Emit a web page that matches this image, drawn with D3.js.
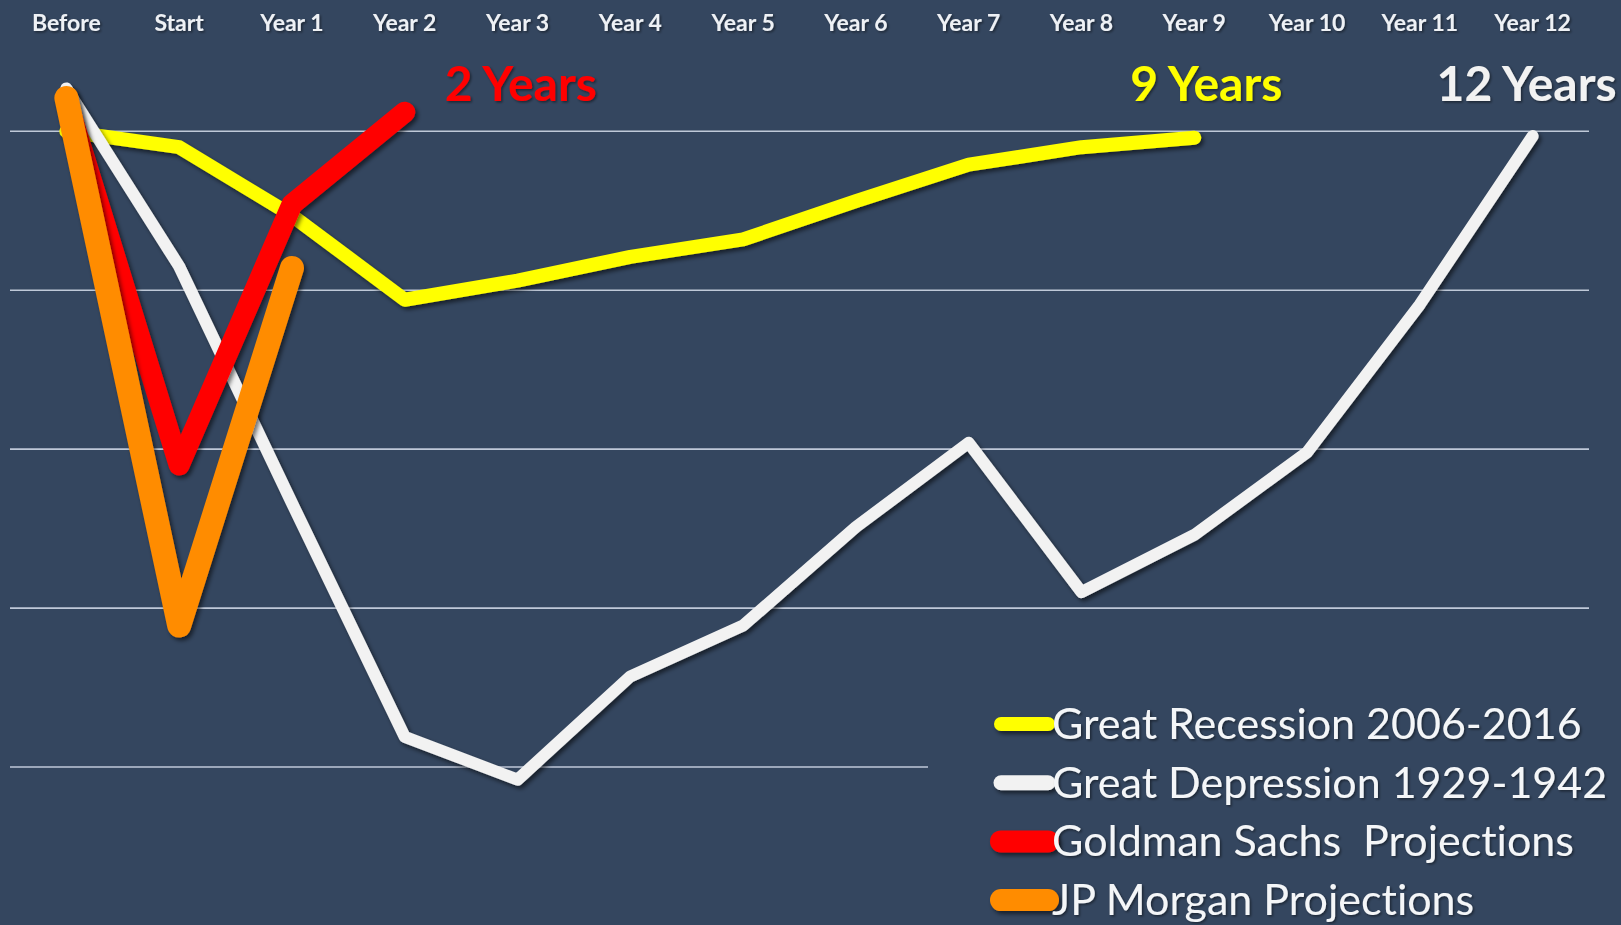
<!DOCTYPE html>
<html>
<head>
<meta charset="utf-8">
<script src="https://cdn.jsdelivr.net/npm/d3@7/dist/d3.min.js"></script>
<style>
  html, body { margin: 0; padding: 0; background: #34465f; overflow: hidden; }
  svg { display: block; }
  text { font-variant-ligatures: none; white-space: pre; }
</style>
</head>
<body>
<svg id="chart" width="1621" height="925"></svg>
<script>
// Periods along the top axis
const categories = ["Before", "Start", "Year 1", "Year 2", "Year 3", "Year 4", "Year 5",
  "Year 6", "Year 7", "Year 8", "Year 9", "Year 10", "Year 11", "Year 12"];

// Output index (pre-crisis level = 100)
const greatRecession = [100, 99.0, 94.7, 89.4, 90.6, 92.1, 93.2, 95.6, 97.9, 99.0, 99.6];
const greatDepression = [102.7, 91.5, 76.6, 61.9, 59.2, 65.7, 68.9, 75.1, 80.4, 71.0, 74.6, 79.8, 89.1, 99.7];
const goldmanSachs = [102.0, 79.0, 95.4, 101.2];
const jpMorgan = [102.1, 68.9, 91.4];

const gridValues = [100, 90, 80, 70, 60];

const seriesNames = ["Great Recession 2006-2016", "Great Depression 1929-1942",
  "Goldman Sachs  Projections", "JP Morgan Projections"];
const recoveryLabels = ["9 Years", "12 Years", "2 Years"];

const W = 1621, H = 925;
const bg = "#34465f";

const svg = d3.select("#chart");
svg.append("rect").attr("width", W).attr("height", H).attr("fill", bg);

const defs = svg.append("defs");
// Soft drop shadow under the lines and swatches; region generous enough for any local transform
const shadow = defs.append("filter").attr("id", "shadow")
  .attr("filterUnits", "userSpaceOnUse")
  .attr("x", -W).attr("y", -H).attr("width", 3 * W).attr("height", 3 * H);
shadow.append("feDropShadow").attr("dx", 2.5).attr("dy", 3).attr("stdDeviation", 2.2)
  .attr("flood-color", "#000").attr("flood-opacity", 0.55);
const tshadow = defs.append("filter").attr("id", "tshadow");
tshadow.append("feDropShadow").attr("dx", 1.5).attr("dy", 1.5).attr("stdDeviation", 1.2)
  .attr("flood-color", "#000").attr("flood-opacity", 0.45);

const x = d3.scaleBand().domain(categories).range([10, 1589]);
const cx = c => x(c) + x.bandwidth() / 2;
const y = d3.scaleLinear().domain([60, 100]).range([767, 131.3]);

// Horizontal gridlines
svg.append("g").selectAll("line").data(gridValues).join("line")
  .attr("x1", x.range()[0]).attr("x2", x.range()[1])
  .attr("y1", d => y(d)).attr("y2", d => y(d))
  .attr("stroke", "#bfc9d8").attr("stroke-width", 1.6);

// Period labels across the top
const axis = svg.append("g").attr("transform", "translate(0,31)")
  .call(d3.axisTop(x).tickSize(0).tickPadding(0));
axis.select(".domain").remove();
axis.selectAll("text")
  .attr("fill", "#eef1f5")
  .attr("font-family", "Lato, 'Open Sans', sans-serif")
  .attr("font-weight", 700)
  .attr("font-size", 23)
  .attr("filter", "url(#tshadow)");

const series = [
  { name: seriesNames[0], values: greatRecession, color: "#ffff00", width: 14, swatch: 14 },
  { name: seriesNames[1], values: greatDepression, color: "#f2f2f2", width: 12, swatch: 15 },
  { name: seriesNames[2], values: goldmanSachs, color: "#ff0000", width: 21, swatch: 22 },
  { name: seriesNames[3], values: jpMorgan, color: "#ff8c00", width: 24, swatch: 22 }
];

const line = d3.line()
  .x((d, i) => cx(categories[i]))
  .y(d => y(d));

svg.append("g").selectAll("path").data(series).join("path")
  .attr("d", s => line(s.values))
  .attr("fill", "none")
  .attr("stroke", s => s.color)
  .attr("stroke-width", s => s.width)
  .attr("stroke-linecap", "round")
  .attr("stroke-linejoin", "round")
  .attr("filter", "url(#shadow)");

// Recovery-time callouts
const callouts = [
  { text: recoveryLabels[2], color: "#ff0000", at: "Year 2", dx: 40, anchor: "start" },
  { text: recoveryLabels[0], color: "#ffff00", at: "Year 9", dx: 12, anchor: "middle" },
  { text: recoveryLabels[1], color: "#f2f2f2", at: "Year 12", dx: -6, anchor: "middle" }
];
svg.append("g").selectAll("text").data(callouts).join("text")
  .attr("x", d => cx(d.at) + d.dx)
  .attr("y", 101)
  .attr("text-anchor", d => d.anchor)
  .attr("fill", d => d.color)
  .attr("font-family", "Lato, 'Open Sans', sans-serif")
  .attr("font-weight", 700)
  .attr("font-size", 48)
  .attr("filter", "url(#tshadow)")
  .text(d => d.text);

// Legend
const legend = svg.append("g");
legend.append("rect")
  .attr("x", 928).attr("y", 690).attr("width", W - 928).attr("height", H - 690)
  .attr("fill", bg);
const rowH = 58.7, firstBase = 739;
const rows = legend.selectAll("g.row").data(series).join("g").attr("class", "row")
  .attr("transform", (d, i) => `translate(0,${firstBase + i * rowH})`);
// Rounded swatch bars in each series colour
rows.append("rect")
  .attr("x", d => 1001 - d.swatch / 2)
  .attr("y", d => -15 - d.swatch / 2)
  .attr("width", d => 47 + d.swatch)
  .attr("height", d => d.swatch)
  .attr("rx", d => d.swatch / 2)
  .attr("fill", d => d.color)
  .attr("filter", "url(#shadow)");
rows.append("text")
  .attr("x", 1052).attr("y", 0)
  .attr("fill", "#f4f6f8")
  .attr("font-family", "Lato, 'Open Sans', sans-serif")
  .attr("font-size", 43)
  .attr("filter", "url(#tshadow)")
  .text(d => d.name);
</script>
</body>
</html>
